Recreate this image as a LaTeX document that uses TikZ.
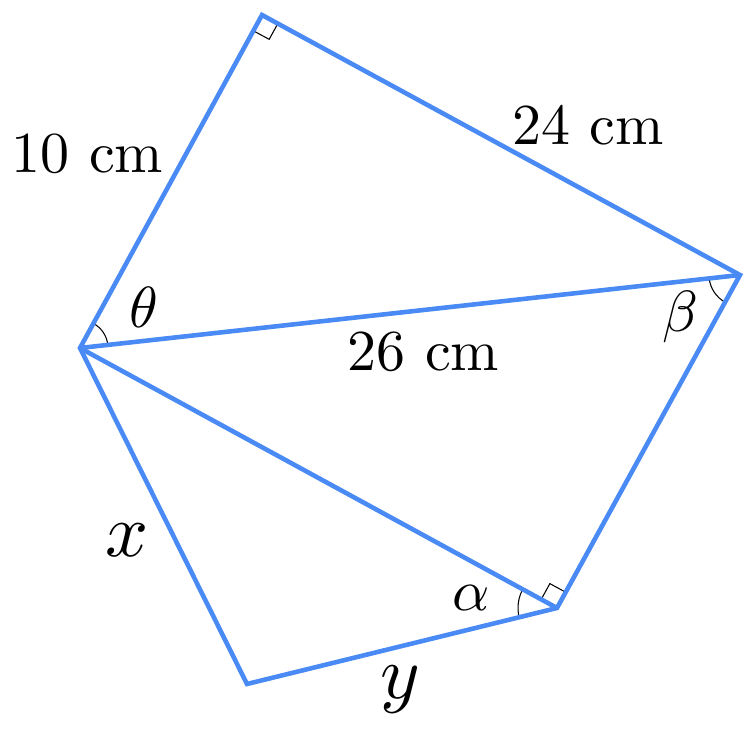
\documentclass[tikz,border=0pt]{standalone}
\usepackage{amsmath}
\definecolor{edgeblue}{RGB}{74,138,244}
\tikzset{
    side/.style={edgeblue,line width=2.6pt},
    anglemark/.style={black,line width=0.6pt},
    lbl/.style={scale=3.3},
    varlbl/.style={scale=4.3}
}
\begin{document}
\begin{tikzpicture}
    \useasboundingbox (0,0) rectangle (15.1,14.72);
    \coordinate (A) at (5.24,14.42);
    \coordinate (B) at (1.60,7.76);
    \coordinate (C) at (14.80,9.22);
    \coordinate (D) at (11.14,2.56);
    \coordinate (E) at (4.94,1.04);
    % right angle marks
    \draw[anglemark] (A) ++(241.3:0.36) -- ++(-28.5:0.36) -- ++(61.3:0.36);
    \draw[anglemark] (D) ++(151.4:0.36) -- ++(61.2:0.36) -- ++(-28.6:0.36);
    % angle arcs
    \draw[anglemark] ([shift={(61.3:0.56)}]B) arc(61.3:6.3:0.56);
    \draw[anglemark] ([shift={(186.3:0.62)}]C) arc(186.3:241.2:0.62);
    \draw[anglemark] ([shift={(151.4:0.78)}]D) arc(151.4:193.8:0.78);
    % sides
    \draw[side] (A) -- (B) -- (E) -- (D) -- (C) -- cycle;
    \draw[side] (B) -- (C);
    \draw[side] (B) -- (D);
    % labels
    \node[lbl] (ab) at (1.75,11.64) {10 cm};
    \node[lbl] (ac) at (11.76,12.22) {24 cm};
    \node[lbl] (bc) at (8.47,7.68) {26 cm};
    \node[lbl] (th) at (2.88,8.58) {$\theta$};
    \node[lbl] (be) at (13.60,8.38) {$\beta$};
    \node[lbl] (al) at (9.42,2.76) {$\alpha$};
    \node[varlbl] (xx) at (2.54,3.92) {$x$};
    \node[varlbl] (yy) at (8.00,0.92) {$y$};
\end{tikzpicture}
\end{document}
